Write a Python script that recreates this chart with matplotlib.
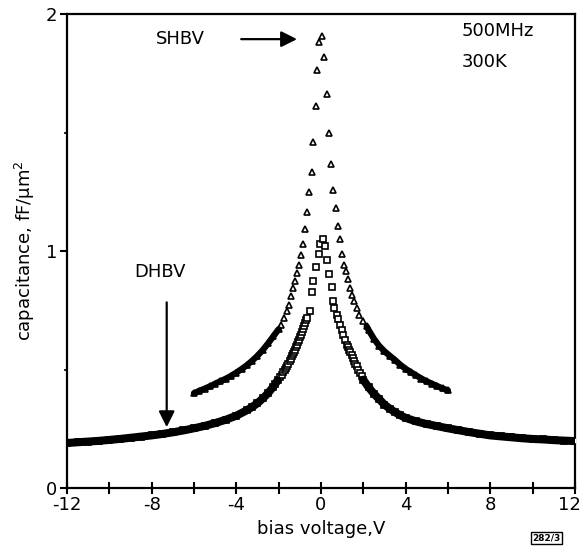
import numpy as np
import matplotlib
matplotlib.use("Agg")
import matplotlib.pyplot as plt
from matplotlib.transforms import ScaledTranslation

# ---- data ----
# SHBV (triangles)
shbv_v = [-6.0, -5.75, -5.5, -5.25, -5.0, -4.75, -4.5, -4.25, -4.0, -3.75, -3.5, -3.25,
          -3.0, -2.75, -2.5, -2.25, -2.0, -1.89, -1.75, -1.62, -1.51, -1.42, -1.31, -1.23,
          -1.12, -1.04, -0.94, -0.84, -0.74, -0.65, -0.55, -0.44, -0.36, -0.25, -0.17, -0.08,
          0.03, 0.16, 0.27, 0.39, 0.46, 0.58, 0.69, 0.79, 0.90, 0.98, 1.09, 1.18, 1.29, 1.37,
          1.45, 1.56, 1.69, 1.81, 1.97, 2.16, 2.25, 2.5, 2.75, 3.0, 3.25, 3.5, 3.75, 4.0,
          4.25, 4.5, 4.75, 5.0, 5.25, 5.5, 5.75, 6.0]
shbv_c = [0.400, 0.410, 0.419, 0.429, 0.440, 0.451, 0.461, 0.473, 0.487, 0.502, 0.518, 0.537,
          0.558, 0.582, 0.610, 0.640, 0.670, 0.689, 0.718, 0.745, 0.774, 0.809, 0.844, 0.872,
          0.908, 0.943, 0.982, 1.030, 1.094, 1.164, 1.249, 1.333, 1.459, 1.610, 1.764, 1.880,
          1.908, 1.817, 1.662, 1.497, 1.366, 1.256, 1.180, 1.105, 1.049, 0.989, 0.943, 0.915, 0.880, 0.844,
          0.816, 0.788, 0.760, 0.731, 0.703, 0.682, 0.667, 0.630, 0.600, 0.577, 0.558, 0.540, 0.520, 0.503,
          0.489, 0.475, 0.462, 0.450, 0.440, 0.430, 0.420, 0.412]

# DHBV (squares)
dhbv_v = [-12, -11.5, -11, -10.5, -10, -9.5, -9, -8.5, -8, -7.5, -7, -6.5, -6, -5.5, -5, -4.5,
          -4, -3.5, -3.25, -3.0, -2.75, -2.5, -2.25, -2.15, -2.05, -1.94, -1.86, -1.78, -1.71,
          -1.65, -1.60, -1.54, -1.48, -1.42, -1.36, -1.31, -1.27, -1.23, -1.17, -1.12, -1.08,
          -1.04, -0.98, -0.92, -0.88, -0.84, -0.80, -0.76, -0.72, -0.68, -0.52, -0.44, -0.36,
          -0.24, -0.09, -0.05, 0.08, 0.19, 0.30, 0.39, 0.51, 0.58, 0.63, 0.74, 0.82, 0.90, 0.98,
          1.05, 1.13, 1.21, 1.27, 1.33, 1.39, 1.45, 1.51, 1.57, 1.63, 1.69, 1.77, 1.85, 1.92,
          2.0, 2.25, 2.5, 2.75, 3.0, 3.25, 3.5,
          3.75, 4.0, 4.5, 5.0, 5.5, 6.0, 6.5, 7.0, 7.5, 8.0, 8.5, 9.0, 9.5, 10, 10.5, 11, 11.5, 12]
dhbv_c = [0.190, 0.193, 0.196, 0.199, 0.203, 0.207, 0.212, 0.217, 0.222, 0.228, 0.235, 0.243,
          0.252, 0.262, 0.274, 0.288, 0.305, 0.328, 0.342, 0.358, 0.378, 0.400, 0.428, 0.440,
          0.454, 0.468, 0.478, 0.488, 0.497, 0.506, 0.515, 0.524, 0.534, 0.544, 0.555, 0.565,
          0.575, 0.584, 0.595, 0.605, 0.616, 0.626, 0.637, 0.647, 0.659, 0.671, 0.684, 0.696,
          0.707, 0.718, 0.745, 0.826, 0.872, 0.932, 0.988, 1.030, 1.052, 1.023, 0.964, 0.905,
          0.849, 0.790, 0.760, 0.731, 0.712, 0.686, 0.667, 0.647, 0.626, 0.605, 0.594, 0.583,
          0.572, 0.562, 0.550, 0.537, 0.525, 0.513, 0.499, 0.485, 0.471, 0.457, 0.425, 0.398,
          0.375, 0.352, 0.335, 0.320, 0.307, 0.296,
          0.281, 0.270, 0.261, 0.252, 0.244, 0.236, 0.229, 0.222, 0.218, 0.214, 0.210, 0.207,
          0.205, 0.202, 0.200, 0.198]

x_ticks = [-12, -8, -4, 0, 4, 8, 12]
y_ticks = [0, 1, 2]

plt.rcParams['font.family'] = ['DejaVu Sans']
plt.rcParams['axes.unicode_minus'] = False

fig = plt.figure(figsize=(5.83, 5.5), dpi=100)
ax = fig.add_axes([0.115, 0.1127, 0.871, 0.8618])

sv = np.array(shbv_v); sc = np.array(shbv_c)
dv = np.array(dhbv_v); dc = np.array(dhbv_c)

# open markers
ax.plot(dv, dc, ls='none', marker='s', ms=4.5, mfc='white', mec='black', mew=1.2, zorder=3)
ax.plot(sv, sc, ls='none', marker='^', ms=4.5, mfc='white', mec='black', mew=1.2, zorder=3)
# dense (overlapping) parts appear as solid bands
ax.plot(dv, np.where(np.abs(dv) >= 2.0, dc, np.nan), color='black', lw=5.8,
        solid_capstyle='round', zorder=4)
ax.plot(sv, np.where(np.abs(sv) >= 2.0, sc, np.nan), color='black', lw=4.5,
        solid_capstyle='round', zorder=4)

ax.set_xlim(-12, 12)
ax.set_ylim(0, 2)
ax.set_xticks(x_ticks)
ax.set_xticks(np.arange(-12, 13, 2), minor=True)
ax.set_yticks(y_ticks)
ax.set_yticks([0.5, 1.5], minor=True)
ax.set_xticklabels([str(t) for t in x_ticks])
ax.set_yticklabels([str(t) for t in y_ticks])
ax.tick_params(axis='x', which='both', direction='inout', length=8, width=1.5,
               labelsize=13, pad=2)
ax.tick_params(axis='y', which='major', direction='out', length=5, width=1.5,
               labelsize=13, pad=2)
ax.tick_params(axis='y', which='minor', direction='out', length=2, width=1.2)
for s in ax.spines.values():
    s.set_linewidth(1.6)

# keep the last x tick label inside the figure
last = ax.get_xticklabels()[-1]
last.set_transform(last.get_transform() + ScaledTranslation(-5 / 100, 0, fig.dpi_scale_trans))

ax.set_xlabel('bias voltage,V', fontsize=13, labelpad=4)
ax.set_ylabel('capacitance, fF/µm$^2$', fontsize=13, labelpad=6)

# annotations
ax.annotate('', xy=(-1.0, 1.894), xytext=(-3.9, 1.894),
            arrowprops=dict(arrowstyle='-|>', mutation_scale=24, lw=1.6, color='black'))
ax.text(-7.8, 1.894, 'SHBV', fontsize=13, va='center', ha='left')
ax.annotate('', xy=(-7.29, 0.245), xytext=(-7.29, 0.795),
            arrowprops=dict(arrowstyle='-|>', mutation_scale=24, lw=1.6, color='black'))
ax.text(-7.6, 0.913, 'DHBV', fontsize=13, va='center', ha='center')
ax.text(6.65, 1.928, '500MHz', fontsize=13, va='center', ha='left')
ax.text(6.65, 1.797, '300K', fontsize=13, va='center', ha='left')

fig.text(0.937, 0.022, '282/3', fontsize=6.5, fontweight='bold', ha='center', va='center',
         bbox=dict(boxstyle='square,pad=0.15', fc='white', ec='black', lw=1.0))

fig.savefig('out.png', dpi=100)
